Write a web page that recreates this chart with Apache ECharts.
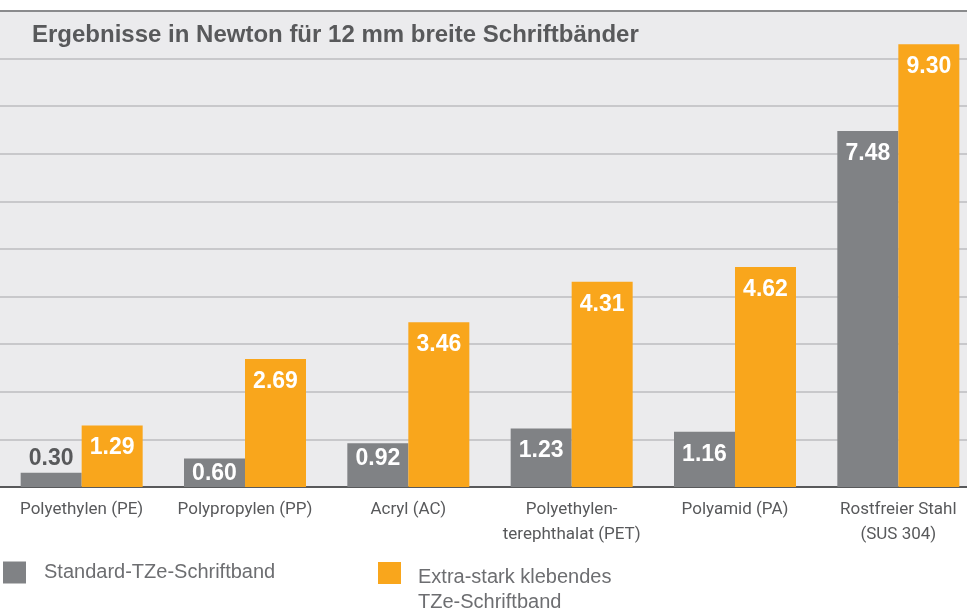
<!DOCTYPE html>
<html>
<head>
    <meta charset="utf-8">
    <title>Ergebnisse in Newton</title>
    <script src="https://cdn.jsdelivr.net/npm/echarts@6/dist/echarts.min.js"></script>
    <style>
        html, body { margin: 0; padding: 0; background: #fff; }
        #chart { width: 967px; height: 609px; }
    </style>
</head>
<body>
<div id="chart"></div>
<script>
    // Daten
    var materials = ['Polyethylen (PE)', 'Polypropylen (PP)', 'Acryl (AC)',
        'Polyethylen-\nterephthalat (PET)', 'Polyamid (PA)', 'Rostfreier Stahl\n(SUS 304)'];
    var standardValues = [0.30, 0.60, 0.92, 1.23, 1.16, 7.48];
    var extraValues = [1.29, 2.69, 3.46, 4.31, 4.62, 9.30];
    var seriesNames = ['Standard-TZe-Schriftband', 'Extra-stark klebendes\nTZe-Schriftband'];

    var GRAY = '#808285';
    var ORANGE = '#f9a61c';
    var TEXT = '#58595b';

    // kleine Balken: Label über bzw. knapp im Balken
    function toItems(values) {
        return values.map(function (v) {
            if (v < 0.45) {
                return { value: v, label: { position: 'top', distance: 3, color: TEXT } };
            }
            if (v < 1) {
                return { value: v, label: { distance: 4 } };
            }
            return v;
        });
    }

    var barLabel = {
        show: true,
        position: 'insideTop',
        distance: 11,
        color: '#fff',
        fontFamily: 'Liberation Sans, Arial, sans-serif',
        fontWeight: 'bold',
        fontSize: 23,
        formatter: function (p) { return p.value.toFixed(2); }
    };

    var myChart = echarts.init(document.getElementById('chart'));
    myChart.setOption({
        animation: false,
        textStyle: { fontFamily: 'Liberation Sans, Arial, sans-serif' },
        title: {
            text: 'Ergebnisse in Newton für 12 mm breite Schriftbänder',
            left: 32,
            top: 23,
            padding: 0,
            textStyle: { color: TEXT, fontSize: 24, fontWeight: 'bold' }
        },
        legend: [{
            data: [seriesNames[0]],
            left: 3,
            top: 560,
            padding: 0,
            icon: 'rect',
            itemWidth: 23,
            itemHeight: 22,
            textStyle: { color: '#6d6e71', fontSize: 20, lineHeight: 25, padding: [0, 0, 0, 13] }
        }, {
            data: [seriesNames[1]],
            left: 378,
            top: 538,
            padding: 0,
            icon: 'rect',
            itemWidth: 23,
            itemHeight: 22,
            // erste Zeile auf Höhe des Quadrats
            formatter: function (name) {
                var lines = name.split('\n');
                return '{gap| }\n{t|' + lines[0] + '}\n{t|' + lines[1] + '}';
            },
            textStyle: {
                color: '#6d6e71', fontSize: 20, padding: [0, 0, 0, 12],
                rich: {
                    gap: { lineHeight: 33, fontSize: 20 },
                    t: { lineHeight: 25, fontSize: 20, color: '#6d6e71' }
                }
            }
        }],
        grid: {
            show: true,
            left: 0,
            width: 980,
            top: 11,
            bottom: 122,
            outerBoundsMode: 'none',
            backgroundColor: '#ebebed',
            borderWidth: 0
        },
        xAxis: [{
            type: 'category',
            data: materials,
            axisTick: { show: false },
            axisLine: { lineStyle: { color: TEXT, width: 2 } },
            axisLabel: {
                interval: 0,
                margin: 10,
                color: TEXT,
                fontSize: 17,
                lineHeight: 25,
                fontFamily: 'Roboto, Liberation Sans, sans-serif'
            }
        }, {
            type: 'category',
            position: 'top',
            data: materials,
            axisTick: { show: false },
            axisLabel: { show: false },
            axisLine: { lineStyle: { color: '#8a8b8d', width: 2 } }
        }],
        yAxis: {
            type: 'value',
            min: 0,
            max: 10,
            interval: 1,
            axisLabel: { show: false },
            axisLine: { show: false },
            axisTick: { show: false },
            splitLine: { lineStyle: { color: '#bdbdbf', width: 1.5 } }
        },
        series: [{
            name: seriesNames[0],
            type: 'bar',
            barWidth: 61,
            barGap: '0%',
            itemStyle: { color: GRAY },
            label: barLabel,
            data: toItems(standardValues)
        }, {
            name: seriesNames[1],
            type: 'bar',
            barWidth: 61,
            barGap: '0%',
            itemStyle: { color: ORANGE },
            label: barLabel,
            data: toItems(extraValues)
        }]
    });
</script>
</body>
</html>
